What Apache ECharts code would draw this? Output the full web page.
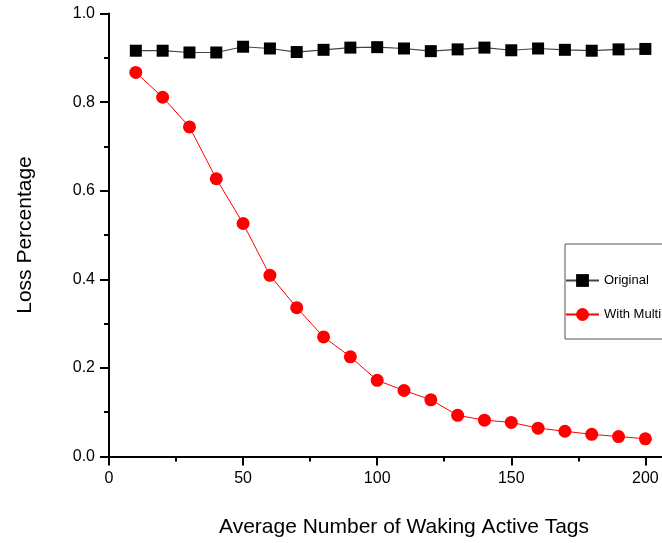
<!DOCTYPE html>
<html lang="en">
<head>
    <meta charset="UTF-8">
    <title>Loss Percentage</title>
    <style>
        html, body { margin: 0; padding: 0; background: #fff; }
    </style>
</head>
<body>
<div id="chart1" style="width:662px; height:543px;"></div>
<script type="text/javascript" src="https://cdn.jsdelivr.net/npm/echarts@6/dist/echarts.min.js"></script>
<script type="text/javascript">
    // data
    var tags = [10, 20, 30, 40, 50, 60, 70, 80, 90, 100, 110, 120, 130, 140, 150, 160, 170, 180, 190, 200];
    var original = [0.916, 0.916, 0.912, 0.912, 0.925, 0.921, 0.913, 0.918, 0.923, 0.924,
                    0.921, 0.915, 0.919, 0.923, 0.917, 0.921, 0.918, 0.916, 0.919, 0.920];
    var withMulti = [0.867, 0.811, 0.744, 0.627, 0.526, 0.409, 0.336, 0.270, 0.225, 0.172,
                     0.149, 0.128, 0.093, 0.082, 0.077, 0.064, 0.057, 0.050, 0.045, 0.040];
    var xMajor = [0, 50, 100, 150, 200];
    var xMinor = [25, 75, 125, 175];
    var seriesNames = ['Original', 'With Multi'];

    var font = 'Arial, "Liberation Sans", sans-serif';

    function pairs(xs, ys) {
        var out = [];
        for (var i = 0; i < xs.length; i++) out.push([xs[i], ys[i]]);
        return out;
    }

    // plot area runs past the right edge of the picture (cropped original)
    var option = {
        animation: false,
        grid: { left: 109, top: 13.5, height: 443, width: 590, outerBoundsMode: 'none', containLabel: false },
        legend: {
            left: 565,
            top: 244,
            orient: 'vertical',
            padding: [30, 30, 18, 0],
            itemGap: 21,
            itemWidth: 33,
            itemHeight: 16,
            borderColor: '#555',
            borderWidth: 1,
            textStyle: { fontFamily: font, fontSize: 13, color: '#000' },
            data: seriesNames
        },
        xAxis: [{
            type: 'value',
            min: 0,
            max: 220,
            name: 'Average Number of Waking Active Tags',
            nameLocation: 'middle',
            nameGap: 60,
            nameTextStyle: { fontFamily: font, fontSize: 21, color: '#000' },
            splitLine: { show: false },
            axisLine: { lineStyle: { color: '#000', width: 2 } },
            axisTick: { customValues: xMajor, length: 9, lineStyle: { color: '#000', width: 2 } },
            axisLabel: { customValues: xMajor, margin: 14, fontFamily: font, fontSize: 16, color: '#000' }
        }, {
            type: 'value',
            min: 0,
            max: 220,
            position: 'bottom',
            splitLine: { show: false },
            axisLine: { show: false },
            axisTick: { customValues: xMinor, length: 5, lineStyle: { color: '#000', width: 2 } },
            axisLabel: { show: false }
        }],
        yAxis: {
            type: 'value',
            min: 0,
            max: 1,
            interval: 0.2,
            name: 'Loss Percentage',
            nameLocation: 'middle',
            nameGap: 73,
            nameTextStyle: { fontFamily: font, fontSize: 21, color: '#000' },
            splitLine: { show: false },
            axisLine: { show: true, lineStyle: { color: '#000', width: 2 } },
            axisTick: { show: true, length: 9, lineStyle: { color: '#000', width: 2 } },
            minorTick: { show: true, splitNumber: 2, length: 5, lineStyle: { color: '#000', width: 2 } },
            axisLabel: {
                margin: 14, fontFamily: font, fontSize: 16, color: '#000',
                formatter: function (v) { return v.toFixed(1); }
            }
        },
        series: [{
            name: seriesNames[0],
            type: 'line',
            xAxisIndex: 0,
            data: pairs(tags, original),
            symbol: 'rect',
            symbolSize: 12,
            itemStyle: { color: '#000' },
            lineStyle: { color: '#444', width: 1.2 }
        }, {
            name: seriesNames[1],
            type: 'line',
            xAxisIndex: 0,
            data: pairs(tags, withMulti),
            symbol: 'circle',
            symbolSize: 13,
            itemStyle: { color: '#ff0000' },
            lineStyle: { color: '#ff0000', width: 1 }
        }]
    };

    var myChart = echarts.init(document.getElementById('chart1'));
    myChart.setOption(option);
</script>
</body>
</html>
